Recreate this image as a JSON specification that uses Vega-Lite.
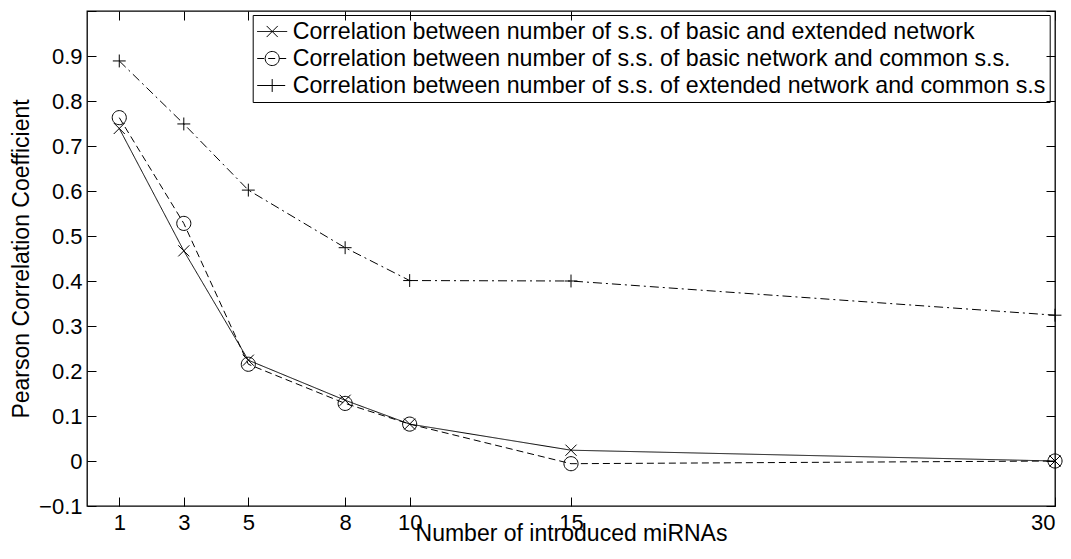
{
  "$schema": "https://vega.github.io/schema/vega-lite/v6.json",
  "width": 968,
  "height": 495,
  "autosize": {"type": "none"},
  "padding": {"left": 87, "top": 11, "right": 16, "bottom": 53},
  "background": "white",
  "config": {
    "view": {"stroke": "#000", "strokeWidth": 1.3},
    "font": "Liberation Sans",
    "axis": {
      "grid": false,
      "domain": false,
      "ticks": true,
      "tickSize": -9,
      "tickColor": "#000",
      "tickWidth": 1,
      "labelFont": "Liberation Sans",
      "labelFontSize": 22,
      "labelColor": "#000",
      "titleFont": "Liberation Sans",
      "titleFontSize": 23,
      "titleFontWeight": "normal",
      "titleColor": "#000"
    }
  },
  "data": {
    "values": [
      {"miRNAs": 1, "series": "Correlation between number of s.s. of basic and extended network", "r": 0.739},
      {"miRNAs": 3, "series": "Correlation between number of s.s. of basic and extended network", "r": 0.467},
      {"miRNAs": 5, "series": "Correlation between number of s.s. of basic and extended network", "r": 0.224},
      {"miRNAs": 8, "series": "Correlation between number of s.s. of basic and extended network", "r": 0.135},
      {"miRNAs": 10, "series": "Correlation between number of s.s. of basic and extended network", "r": 0.082},
      {"miRNAs": 15, "series": "Correlation between number of s.s. of basic and extended network", "r": 0.024},
      {"miRNAs": 30, "series": "Correlation between number of s.s. of basic and extended network", "r": 0.0},
      {"miRNAs": 1, "series": "Correlation between number of s.s. of basic network and common s.s.", "r": 0.763},
      {"miRNAs": 3, "series": "Correlation between number of s.s. of basic network and common s.s.", "r": 0.528},
      {"miRNAs": 5, "series": "Correlation between number of s.s. of basic network and common s.s.", "r": 0.215},
      {"miRNAs": 8, "series": "Correlation between number of s.s. of basic network and common s.s.", "r": 0.128},
      {"miRNAs": 10, "series": "Correlation between number of s.s. of basic network and common s.s.", "r": 0.082},
      {"miRNAs": 15, "series": "Correlation between number of s.s. of basic network and common s.s.", "r": -0.006},
      {"miRNAs": 30, "series": "Correlation between number of s.s. of basic network and common s.s.", "r": 0.0},
      {"miRNAs": 1, "series": "Correlation between number of s.s. of extended network and common s.s", "r": 0.889},
      {"miRNAs": 3, "series": "Correlation between number of s.s. of extended network and common s.s", "r": 0.749},
      {"miRNAs": 5, "series": "Correlation between number of s.s. of extended network and common s.s", "r": 0.602},
      {"miRNAs": 8, "series": "Correlation between number of s.s. of extended network and common s.s", "r": 0.474},
      {"miRNAs": 10, "series": "Correlation between number of s.s. of extended network and common s.s", "r": 0.401},
      {"miRNAs": 15, "series": "Correlation between number of s.s. of extended network and common s.s", "r": 0.4},
      {"miRNAs": 30, "series": "Correlation between number of s.s. of extended network and common s.s", "r": 0.324}
    ]
  },
  "layer": [
    {
      "mark": {"type": "line", "color": "#000", "strokeWidth": 1},
      "encoding": {
        "x": {
          "field": "miRNAs", "type": "quantitative",
          "scale": {"domain": [0, 30], "nice": false, "zero": false},
          "axis": {"orient": "top", "labels": false, "title": null, "values": [1, 3, 5, 8, 10, 15, 30]}
        },
        "y": {
          "field": "r", "type": "quantitative",
          "scale": {"domain": [-0.1, 1], "nice": false, "zero": false},
          "axis": {"orient": "right", "labels": false, "title": null, "values": [-0.1, 0, 0.1, 0.2, 0.3, 0.4, 0.5, 0.6, 0.7, 0.8, 0.9, 1]}
        },
        "strokeDash": {
          "field": "series", "type": "nominal",
          "scale": {
            "domain": [
              "Correlation between number of s.s. of basic and extended network",
              "Correlation between number of s.s. of basic network and common s.s.",
              "Correlation between number of s.s. of extended network and common s.s"
            ],
            "range": [[1, 0], [7, 4], [9, 4, 2, 4]]
          },
          "legend": {
            "orient": "none", "legendX": 165.7, "legendY": 4, "title": null,
            "symbolType": "stroke", "symbolSize": 900, "clipHeight": 25,
            "labelFont": "Liberation Sans", "labelFontSize": 23.2, "labelOpacity": 0, "labelLimit": 1000,
            "padding": 4, "rowPadding": 2, "labelOffset": 5,
            "symbolStrokeWidth": 1, "symbolStrokeColor": "#000"
          }
        }
      }
    },
    {
      "mark": {"type": "point", "filled": false, "color": "#000", "strokeWidth": 1, "size": 900, "opacity": 1},
      "encoding": {
        "x": {
          "field": "miRNAs", "type": "quantitative",
          "scale": {"domain": [0, 30], "nice": false, "zero": false},
          "axis": {
            "orient": "bottom", "values": [1, 3, 5, 8, 10, 15, 30], "labelPadding": 15,
            "title": "Number of introduced miRNAs", "titleY": 34, "titleBaseline": "alphabetic"
          }
        },
        "y": {
          "field": "r", "type": "quantitative",
          "scale": {"domain": [-0.1, 1], "nice": false, "zero": false},
          "axis": {
            "orient": "left", "values": [-0.1, 0, 0.1, 0.2, 0.3, 0.4, 0.5, 0.6, 0.7, 0.8, 0.9, 1],
            "format": ".1~f", "labelPadding": 14,
            "labelExpr": "datum.value > 0.95 ? '' : datum.label",
            "title": "Pearson Correlation Coefficient", "titleX": -59, "titleY": 247.5,
            "titleBaseline": "alphabetic", "titleAngle": -90, "titleAlign": "center"
          }
        },
        "shape": {
          "field": "series", "type": "nominal",
          "scale": {
            "range": [
              "M-0.37,-0.37L0.37,0.37M-0.37,0.37L0.37,-0.37",
              "M0.47,0A0.47,0.47,0,1,1,-0.47,0A0.47,0.47,0,1,1,0.47,0Z",
              "M-0.43,0L0.43,0M0,-0.43L0,0.43"
            ]
          },
          "legend": {
            "orient": "none", "legendX": 165.7, "legendY": 4, "title": null,
            "symbolSize": 900, "clipHeight": 25,
            "labelFont": "Liberation Sans", "labelFontSize": 23.2, "labelColor": "#000", "labelLimit": 1000,
            "padding": 4, "rowPadding": 2, "labelOffset": 5,
            "symbolStrokeWidth": 1, "symbolStrokeColor": "#000", "symbolFillColor": "transparent",
            "strokeColor": "#000"
          }
        }
      }
    }
  ],
  "resolve": {"axis": {"x": "independent", "y": "independent"}}
}
